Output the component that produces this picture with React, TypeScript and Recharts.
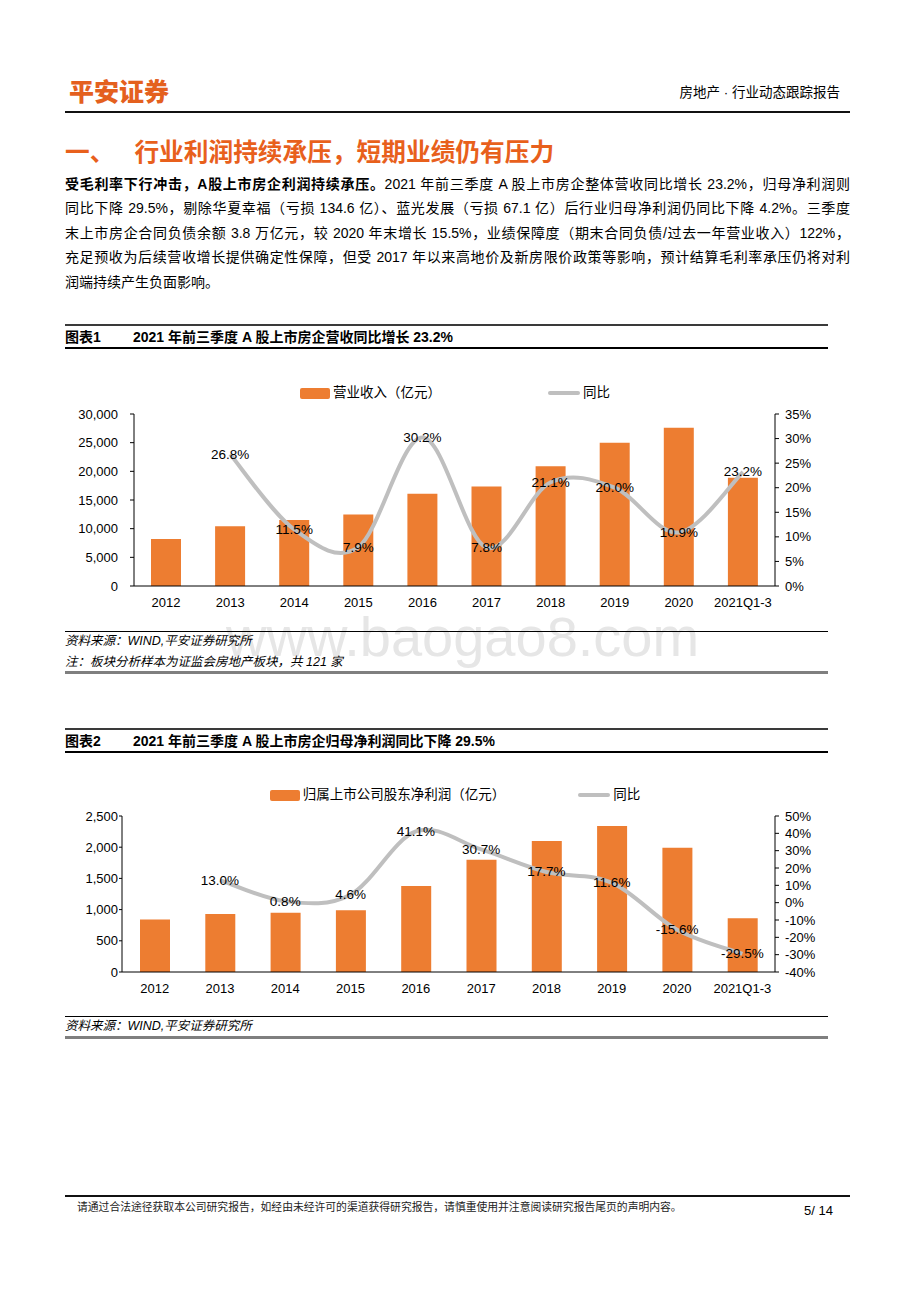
import React from 'react';
import { ComposedChart, Bar, Line, XAxis, YAxis, Legend, LabelList } from 'recharts';

// ---------- data ----------
const categories = ['2012', '2013', '2014', '2015', '2016', '2017', '2018', '2019', '2020', '2021Q1-3'];

const revenue = [8200, 10400, 11500, 12450, 16100, 17350, 20900, 25000, 27600, 18900];
const revenueYoY: (number | null)[] = [null, 26.8, 11.5, 7.9, 30.2, 7.8, 21.1, 20.0, 10.9, 23.2];
const revenueLeftTicks = [0, 5000, 10000, 15000, 20000, 25000, 30000];
const revenueRightTicks = [0, 5, 10, 15, 20, 25, 30, 35];

const profit = [840, 930, 950, 990, 1380, 1800, 2100, 2340, 1990, 860];
const profitYoY: (number | null)[] = [null, 13.0, 0.8, 4.6, 41.1, 30.7, 17.7, 11.6, -15.6, -29.5];
const profitLeftTicks = [0, 500, 1000, 1500, 2000, 2500];
const profitRightTicks = [-40, -30, -20, -10, 0, 10, 20, 30, 40, 50];

const paragraphLines = [
  '同比下降 29.5%，剔除华夏幸福（亏损 134.6 亿）、蓝光发展（亏损 67.1 亿）后行业归母净利润仍同比下降 4.2%。三季度',
  '末上市房企合同负债余额 3.8 万亿元，较 2020 年末增长 15.5%，业绩保障度（期末合同负债/过去一年营业收入）122%，',
  '充足预收为后续营收增长提供确定性保障，但受 2017 年以来高地价及新房限价政策等影响，预计结算毛利率承压仍将对利',
  '润端持续产生负面影响。',
];

const revenueData = categories.map((c, i) => ({ category: c, value: revenue[i], yoy: revenueYoY[i] }));
const profitData = categories.map((c, i) => ({ category: c, value: profit[i], yoy: profitYoY[i] }));

// ---------- styles ----------
const FONT = "'Liberation Sans', Arial, 'Noto Sans CJK SC', sans-serif";
const ORANGE = '#ED7D31';
const GRAY = '#BFBFBF';
const LOGO = '#E4601E';

// Catmull-Rom style smoothing (similar to Excel smoothed lines)
const smoothCurve: any = (context: any) => {
  let pts: number[][] = [];
  return {
    areaStart() {},
    areaEnd() {},
    lineStart() {
      pts = [];
    },
    point(x: number, y: number) {
      pts.push([+x, +y]);
    },
    lineEnd() {
      if (!pts.length) return;
      context.moveTo(pts[0][0], pts[0][1]);
      const t = 1 / 6;
      for (let i = 0; i < pts.length - 1; i++) {
        const p0 = pts[i - 1] || pts[i];
        const p1 = pts[i];
        const p2 = pts[i + 1];
        const p3 = pts[i + 2] || p2;
        context.bezierCurveTo(
          p1[0] + (p2[0] - p0[0]) * t,
          p1[1] + (p2[1] - p0[1]) * t,
          p2[0] - (p3[0] - p1[0]) * t,
          p2[1] - (p3[1] - p1[1]) * t,
          p2[0],
          p2[1]
        );
      }
    },
  };
};

const renderPctLabel = (props: any) => {
  const { x, y, value } = props;
  if (value === null || value === undefined) return null;
  return (
    <text
      x={x}
      y={y}
      textAnchor="middle"
      dominantBaseline="central"
      fontSize={13.5}
      fontFamily={FONT}
      fill="#000"
    >
      {`${Number(value).toFixed(1)}%`}
    </text>
  );
};

const makeLegend = (gap: number) => (props: any) => {
  const items = [...(props.payload || [])].sort(
    (a: any, b: any) => (a.type === 'line' ? 1 : 0) - (b.type === 'line' ? 1 : 0)
  );
  return (
    <div
      style={{
        display: 'flex',
        justifyContent: 'center',
        alignItems: 'center',
        gap,
        fontSize: 13.5,
        fontFamily: FONT,
        color: '#000',
        lineHeight: '18px',
      }}
    >
      {items.map((p: any, i: number) => (
        <div key={i} style={{ display: 'flex', alignItems: 'center' }}>
          {p.type === 'line' ? (
            <span style={{ display: 'inline-block', width: 32, height: 4, background: p.color, borderRadius: 2 }} />
          ) : (
            <span style={{ display: 'inline-block', width: 30, height: 11, background: p.color, borderRadius: 2 }} />
          )}
          <span style={{ marginLeft: 3 }}>{p.value}</span>
        </div>
      ))}
    </div>
  );
};

const fmtThousands = (v: number) => v.toLocaleString('en-US');
const fmtPct = (v: number) => `${v}%`;

const tickStyle = { fill: '#000', fontSize: 13, fontFamily: FONT };

type ChartProps = {
  data: any[];
  width: number;
  height: number;
  top: number;
  leftWidth: number;
  leftTicks: number[];
  rightTicks: number[];
  barName: string;
  legendGap: number;
  legendTop: number;
  leftTickSize: number;
  leftTickMargin: number;
};

const ComboChart = (p: ChartProps) => (
  <ComposedChart
    width={p.width}
    height={p.height}
    data={p.data}
    margin={{ top: p.top, right: 0, left: 0, bottom: 6 }}
    barCategoryGap={0}
  >
    <XAxis
      dataKey="category"
      axisLine={{ stroke: '#000', strokeWidth: 1 }}
      tickLine={false}
      tickSize={0}
      tickMargin={12}
      tick={tickStyle}
      interval={0}
      height={32}
    />
    <YAxis
      yAxisId="left"
      orientation="left"
      domain={[p.leftTicks[0], p.leftTicks[p.leftTicks.length - 1]]}
      ticks={p.leftTicks}
      tickFormatter={fmtThousands}
      axisLine={{ stroke: '#000', strokeWidth: 1 }}
      tickLine={{ stroke: '#000' }}
      tickSize={p.leftTickSize}
      tickMargin={p.leftTickMargin}
      tick={tickStyle}
      width={p.leftWidth}
      interval={0}
    />
    <YAxis
      yAxisId="right"
      orientation="right"
      domain={[p.rightTicks[0], p.rightTicks[p.rightTicks.length - 1]]}
      ticks={p.rightTicks}
      tickFormatter={fmtPct}
      axisLine={{ stroke: '#000', strokeWidth: 1 }}
      tickLine={{ stroke: '#000' }}
      tickSize={4}
      tickMargin={6}
      tick={{ ...tickStyle, textAnchor: 'start' }}
      width={75}
      interval={0}
    />
    <Legend
      verticalAlign="middle"
      layout="horizontal"
      wrapperStyle={{ top: p.legendTop, left: 0, width: p.width }}
      content={makeLegend(p.legendGap)}
    />
    <Bar
      yAxisId="left"
      dataKey="value"
      name={p.barName}
      fill={ORANGE}
      barSize={30}
      isAnimationActive={false}
      legendType="rect"
    />
    <Line
      yAxisId="right"
      dataKey="yoy"
      name="同比"
      stroke={GRAY}
      strokeWidth={4}
      type={smoothCurve}
      dot={false}
      activeDot={false}
      isAnimationActive={false}
      legendType="line"
    >
      <LabelList dataKey="yoy" content={renderPctLabel} />
    </Line>
  </ComposedChart>
);

const abs = (style: React.CSSProperties): React.CSSProperties => ({ position: 'absolute', ...style });

const HLine = ({ top, left = 65, width, height, color }: any) => (
  <div style={abs({ top, left, width, height, background: color })} />
);

const FigureTitle = ({ top, label, title }: any) => (
  <>
    <HLine top={top} width={763} height={2} color="#3a3a3a" />
    <div
      style={abs({
        top: top + 4,
        left: 65,
        lineHeight: '18px',
        fontSize: 14,
        fontWeight: 700,
        fontFamily: FONT,
        whiteSpace: 'nowrap',
      })}
    >
      {label}
    </div>
    <div
      style={abs({
        top: top + 4,
        left: 133,
        lineHeight: '18px',
        fontSize: 14,
        fontWeight: 700,
        fontFamily: FONT,
        whiteSpace: 'nowrap',
      })}
    >
      {title}
    </div>
    <HLine top={top + 23} width={763} height={1.5} color="#000" />
  </>
);

const sourceText: React.CSSProperties = {
  left: 65,
  fontSize: 12.5,
  fontStyle: 'italic',
  fontFamily: FONT,
  lineHeight: '16px',
  whiteSpace: 'nowrap',
  color: '#000',
};

export default function App() {
  return (
    <div
      style={{
        position: 'relative',
        width: 920,
        height: 1302,
        margin: -8,
        background: '#fff',
        overflow: 'hidden',
        fontFamily: FONT,
        color: '#000',
      }}
    >
      {/* watermark */}
      <div
        style={abs({
          top: 616,
          left: 226,
          fontSize: 56,
          lineHeight: '42px',
          color: '#e6e6e6',
          fontFamily: "'Liberation Sans', Arial, sans-serif",
          whiteSpace: 'nowrap',
        })}
      >
        www.baogao8.com
      </div>

      {/* header */}
      <div
        style={abs({
          top: 76,
          left: 69,
          fontSize: 25,
          lineHeight: '28px',
          fontWeight: 900,
          color: LOGO,
          fontFamily: "'Noto Sans CJK SC', sans-serif",
          whiteSpace: 'nowrap',
        })}
      >
        平安证券
      </div>
      <div style={abs({ top: 84, right: 80, fontSize: 13.5, lineHeight: '18px', whiteSpace: 'nowrap' })}>
        房地产 · 行业动态跟踪报告
      </div>
      <HLine top={111} width={785} height={1.5} color="#111" />

      {/* section heading */}
      <div
        style={abs({
          top: 135,
          left: 65,
          fontSize: 24.7,
          lineHeight: '30px',
          fontWeight: 700,
          color: '#E8601C',
          fontFamily: "'Noto Sans CJK SC', sans-serif",
          whiteSpace: 'nowrap',
        })}
      >
        <span>一、</span>
        <span style={{ marginLeft: 20 }}>行业利润持续承压，短期业绩仍有压力</span>
      </div>

      {/* paragraph */}
      <div style={abs({ top: 172, left: 65, width: 785, fontSize: 14, lineHeight: '24.4px' })}>
        <div style={{ textAlign: 'justify', textAlignLast: 'justify', whiteSpace: 'nowrap' }}>
          <b>受毛利率下行冲击，A股上市房企利润持续承压。</b>2021 年前三季度 A 股上市房企整体营收同比增长 23.2%，归母净利润则
        </div>
        {paragraphLines.map((l, i) => (
          <div
            key={i}
            style={{
              textAlign: 'justify',
              textAlignLast: i < paragraphLines.length - 1 ? 'justify' : 'left',
              whiteSpace: 'nowrap',
            }}
          >
            {l}
          </div>
        ))}
      </div>

      {/* figure 1 */}
      <FigureTitle top={324} label="图表1" title="2021 年前三季度 A 股上市房企营收同比增长 23.2%" />
      <div style={abs({ top: 370, left: 60 })}>
        <ComboChart
          data={revenueData}
          width={790}
          height={254}
          top={44}
          leftWidth={74}
          leftTicks={revenueLeftTicks}
          rightTicks={revenueRightTicks}
          barName="营业收入（亿元）"
          legendGap={107}
          legendTop={14}
          leftTickSize={4}
          leftTickMargin={12}
        />
      </div>
      <HLine top={631} width={763} height={1} color="#000" />
      <div style={abs({ ...sourceText, top: 633 })}>资料来源：WIND,平安证券研究所</div>
      <div style={abs({ ...sourceText, top: 654 })}>注：板块分析样本为证监会房地产板块，共 121 家</div>
      <HLine top={671} width={763} height={2.5} color="#7f7f7f" />

      {/* figure 2 */}
      <FigureTitle top={728} label="图表2" title="2021 年前三季度 A 股上市房企归母净利润同比下降 29.5%" />
      <div style={abs({ top: 770, left: 60 })}>
        <ComboChart
          data={profitData}
          width={790}
          height={240}
          top={46}
          leftWidth={62}
          leftTicks={profitLeftTicks}
          rightTicks={profitRightTicks}
          barName="归属上市公司股东净利润（亿元）"
          legendGap={73}
          legendTop={16}
          leftTickSize={3}
          leftTickMargin={1}
        />
      </div>
      <HLine top={1016} width={763} height={1} color="#000" />
      <div style={abs({ ...sourceText, top: 1018 })}>资料来源：WIND,平安证券研究所</div>
      <HLine top={1036} width={763} height={2.5} color="#7f7f7f" />

      {/* footer */}
      <HLine top={1195} width={785} height={1.5} color="#111" />
      <div
        style={abs({
          top: 1200,
          left: 77,
          fontSize: 10.8,
          lineHeight: '14px',
          whiteSpace: 'nowrap',
          color: '#222',
        })}
      >
        请通过合法途径获取本公司研究报告，如经由未经许可的渠道获得研究报告，请慎重使用并注意阅读研究报告尾页的声明内容。
      </div>
      <div style={abs({ top: 1203, left: 804, fontSize: 13, lineHeight: '16px', whiteSpace: 'nowrap' })}>5/ 14</div>
    </div>
  );
}
